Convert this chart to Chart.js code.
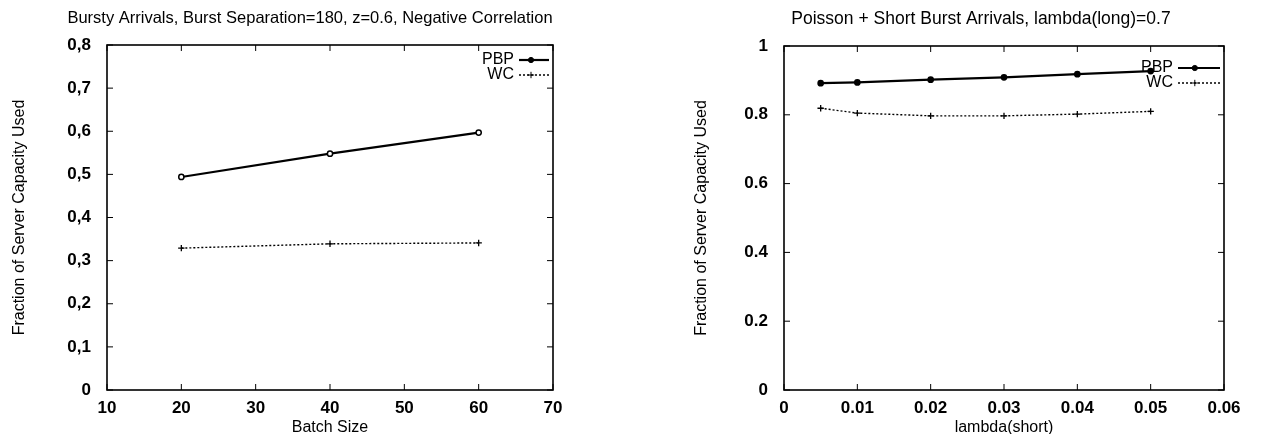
<!DOCTYPE html>
<html>
<head>
<meta charset="utf-8">
<script src="https://cdn.jsdelivr.net/npm/chart.js@4"></script>
<style>
  body { margin: 0; background: #fff; }
  .panel { position: absolute; top: 0; width: 633px; height: 434px; }
  #left { left: 0; }
  #right { left: 633px; }
</style>
</head>
<body>
<div class="panel" id="left"><canvas id="leftChart" width="633" height="434"></canvas></div>
<div class="panel" id="right"><canvas id="rightChart" width="633" height="434"></canvas></div>
<script>
// left panel data
const leftTitle = 'Bursty Arrivals, Burst Separation=180, z=0.6, Negative Correlation';
const batchSize = [20, 40, 60];
const leftPBP = [0.494, 0.548, 0.597];
const leftWC = [0.329, 0.339, 0.341];
const leftXTicks = ['10', '20', '30', '40', '50', '60', '70'];
const leftYTicks = ['0', '0,1', '0,2', '0,3', '0,4', '0,5', '0,6', '0,7', '0,8'];

// right panel data
const rightTitle = 'Poisson + Short Burst Arrivals, lambda(long)=0.7';
const lambdaShort = [0.005, 0.01, 0.02, 0.03, 0.04, 0.05];
const rightPBP = [0.892, 0.894, 0.902, 0.909, 0.918, 0.927];
const rightWC = [0.819, 0.805, 0.797, 0.797, 0.802, 0.81];
const rightXTicks = ['0', '0.01', '0.02', '0.03', '0.04', '0.05', '0.06'];
const rightYTicks = ['0', '0.2', '0.4', '0.6', '0.8', '1'];

const FONT = '"Liberation Sans", Arial, sans-serif';
Chart.defaults.font.family = FONT;
Chart.defaults.color = '#000';

// gnuplot look: full box, inward ticks on every side, legend inside, title above
const gnuplotBox = {
    id: 'gnuplotBox',
    afterDraw(chart, args, opts) {
        const ctx = chart.ctx;
        const a = chart.chartArea;
        const xs = chart.scales.x;
        const ys = chart.scales.y;
        ctx.save();
        ctx.strokeStyle = '#000';
        ctx.lineWidth = 1.6;
        ctx.strokeRect(a.left, a.top, a.right - a.left, a.bottom - a.top);
        ctx.lineWidth = 1;
        xs.ticks.forEach((t) => {
            const px = xs.getPixelForValue(t.value);
            ctx.beginPath();
            ctx.moveTo(px, a.bottom); ctx.lineTo(px, a.bottom - 6);
            ctx.moveTo(px, a.top); ctx.lineTo(px, a.top + 6);
            ctx.stroke();
        });
        ys.ticks.forEach((t) => {
            const py = ys.getPixelForValue(t.value);
            ctx.beginPath();
            ctx.moveTo(a.left, py); ctx.lineTo(a.left + 6, py);
            ctx.moveTo(a.right, py); ctx.lineTo(a.right - 6, py);
            ctx.stroke();
        });

        // title above the plot box
        ctx.fillStyle = '#000';
        ctx.font = opts.titleSize + 'px ' + FONT;
        ctx.textAlign = 'center';
        ctx.textBaseline = 'alphabetic';
        ctx.fillText(opts.title, (a.left + a.right) / 2 + opts.titleShift, a.top - 22);

        // legend
        const lg = opts.legend;
        ctx.font = '16px ' + FONT;
        ctx.textAlign = 'right';
        ctx.textBaseline = 'middle';
        chart.data.datasets.forEach((ds, i) => {
            const y = a.top + lg.top + i * 15;
            const x1 = a.right - 4 - lg.sample;
            ctx.fillText(ds.label, x1 - 5, y);
            ctx.save();
            ctx.strokeStyle = '#000';
            ctx.lineWidth = ds.borderWidth;
            ctx.setLineDash(ds.borderDash || []);
            ctx.beginPath();
            ctx.moveTo(x1, y); ctx.lineTo(a.right - 4, y);
            ctx.stroke();
            ctx.restore();
            Chart.helpers.drawPoint(ctx, {
                pointStyle: ds.pointStyle, radius: ds.pointRadius,
                borderWidth: ds.pointBorderWidth, rotation: 0
            }, x1 + lg.sample * 0.4, y);
        });
        ctx.restore();
    }
};

function makeChart(id, xs, pbp, wc, xTicks, yTicks, cfg) {
    return new Chart(document.getElementById(id), {
        type: 'line',
        data: {
            datasets: [
                {
                    label: 'PBP',
                    data: xs.map((x, i) => ({x: x, y: pbp[i]})),
                    borderColor: '#000',
                    backgroundColor: cfg.pbpFill,
                    borderWidth: 2.2,
                    pointStyle: 'circle',
                    pointRadius: 2.6,
                    pointBorderWidth: 1.5,
                    pointBorderColor: '#000',
                    pointBackgroundColor: cfg.pbpFill
                },
                {
                    label: 'WC',
                    data: xs.map((x, i) => ({x: x, y: wc[i]})),
                    borderColor: '#000',
                    backgroundColor: '#000',
                    borderWidth: 1.4,
                    borderDash: [2, 2],
                    pointStyle: 'cross',
                    pointRadius: 3.2,
                    pointBorderWidth: 1.3,
                    pointBorderColor: '#000'
                }
            ]
        },
        options: {
            responsive: false,
            animation: false,
            devicePixelRatio: 1,
            layout: {padding: cfg.padding},
            plugins: {
                legend: {display: false},
                tooltip: {enabled: false},
                gnuplotBox: {title: cfg.title, titleSize: cfg.titleSize, titleShift: cfg.titleShift, legend: cfg.legend}
            },
            scales: {
                x: {
                    type: 'linear',
                    min: cfg.xMin, max: cfg.xMax,
                    grid: {display: false},
                    border: {display: false},
                    afterFit: (scale) => { scale.height = cfg.xHeight; },
                    ticks: {
                        stepSize: cfg.xStep,
                        padding: 0,
                        font: {size: 17, weight: 'bold'},
                        maxRotation: 0,
                        callback: (v, i) => xTicks[i]
                    },
                    title: {display: true, text: cfg.xTitle, font: {size: 16}, padding: {top: 0, bottom: -3}}
                },
                y: {
                    min: cfg.yMin, max: cfg.yMax,
                    grid: {display: false},
                    border: {display: false},
                    afterFit: (scale) => { scale.width = cfg.yWidth; },
                    ticks: {
                        stepSize: cfg.yStep,
                        padding: 8,
                        font: {size: 17, weight: 'bold'},
                        callback: (v, i) => yTicks[i]
                    },
                    title: {display: true, text: 'Fraction of Server Capacity Used', font: {size: 16}, padding: {top: 0, bottom: 0}}
                }
            }
        },
        plugins: [gnuplotBox]
    });
}

makeChart('leftChart', batchSize, leftPBP, leftWC, leftXTicks, leftYTicks, {
    title: leftTitle, titleSize: 16.5, titleShift: -20,
    legend: {top: 15, sample: 30},
    pbpFill: '#fff',
    xMin: 10, xMax: 70, xStep: 10, xTitle: 'Batch Size',
    yMin: 0, yMax: 0.8, yStep: 0.1,
    yWidth: 97, xHeight: 44,
    padding: {left: 10, right: 80, top: 45, bottom: 0}
});

makeChart('rightChart', lambdaShort, rightPBP, rightWC, rightXTicks, rightYTicks, {
    title: rightTitle, titleSize: 17.5, titleShift: -23,
    legend: {top: 22, sample: 42},
    pbpFill: '#000',
    xMin: 0, xMax: 0.06, xStep: 0.01, xTitle: 'lambda(short)',
    yMin: 0, yMax: 1, yStep: 0.2,
    yWidth: 92, xHeight: 44,
    padding: {left: 59, right: 42, top: 46, bottom: 0}
});
</script>
</body>
</html>
